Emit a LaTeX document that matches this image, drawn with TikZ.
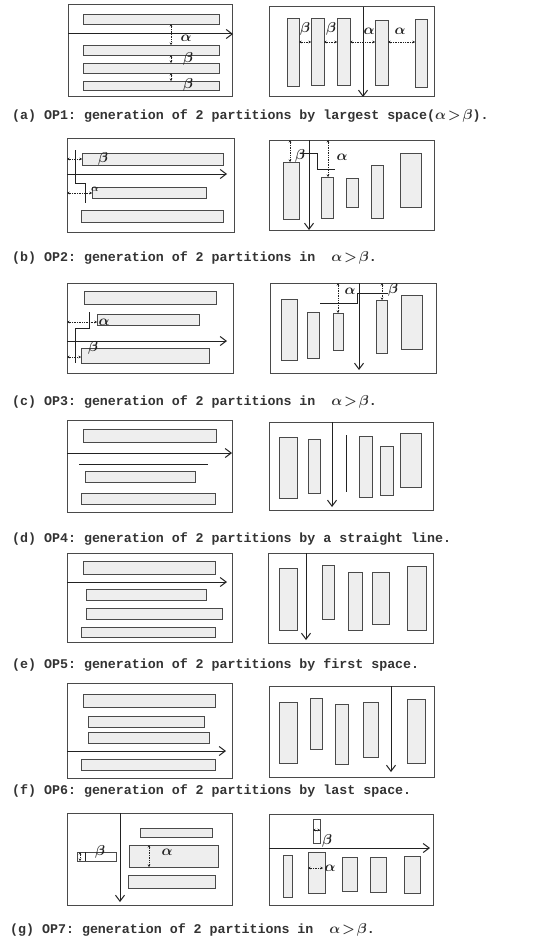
\documentclass[tikz,border=0pt]{standalone}
\usepackage{fontspec}
\setmonofont{Liberation Mono}
\usetikzlibrary{arrows.meta}
\definecolor{barfill}{HTML}{EEEEEE}
\definecolor{edge}{HTML}{4A4A4A}
\definecolor{ink}{HTML}{222222}
\definecolor{captink}{HTML}{333333}
\tikzset{
  panelframe/.style={draw=edge, line width=1pt},
  barbox/.style={draw=edge, fill=barfill, line width=0.9pt},
  cutarrow/.style={draw=ink, line width=1pt, -{Straight Barb[length=6pt,width=9pt,line width=1pt]}},
  cutline/.style={draw=ink, line width=0.8pt},
  stepline/.style={draw=ink, line width=0.7pt},
  dimline/.style={draw=ink, line width=0.7pt, densely dotted, {Stealth[length=2.5pt,width=2.5pt]}-{Stealth[length=2.5pt,width=2.5pt]}},
  lbl/.style={font=\boldmath\fontsize{14}{14}\selectfont, text=ink, inner sep=0pt},
  slbl/.style={font=\boldmath\fontsize{10}{10}\selectfont, text=ink, inner sep=0pt},
  captext/.style={anchor=west, font=\ttfamily\bfseries\boldmath\fontsize{13.3}{14}\selectfont, text=captink, inner sep=0pt},
}
\begin{document}
\begin{tikzpicture}[x=1pt,y=-1pt]
\useasboundingbox[fill=white] (0,0) rectangle (542,939);

% ---------- (a) ----------
\draw[panelframe] (68,5) rectangle (232,97);
\draw[barbox] (83,14) rectangle (219,24);
\draw[barbox] (83,45) rectangle (219,55);
\draw[barbox] (83,63) rectangle (219,73);
\draw[barbox] (83,81) rectangle (219,90);
\coordinate (aL1) at (68,34); \coordinate (aL2) at (233,34);
\draw[cutarrow] (aL1) -- (aL2);
\draw[dimline] (171,24) -- (171,45);
\draw[dimline] (171,55) -- (171,63);
\draw[dimline] (171,73) -- (171,81);
\node[lbl] (aLa) at (186,38) {$\alpha$};
\node[lbl] (aLb1) at (188,59) {$\beta$};
\node[lbl] (aLb2) at (188,85) {$\beta$};

\draw[panelframe] (269,7) rectangle (434,97);
\draw[barbox] (287,18) rectangle (299,86);
\draw[barbox] (311,18) rectangle (324,85);
\draw[barbox] (337,18) rectangle (350,85);
\draw[barbox] (375,20) rectangle (388,85);
\draw[barbox] (415,19) rectangle (427,87);
\coordinate (aR1) at (363,7); \coordinate (aR2) at (363,97);
\draw[cutarrow] (aR1) -- (aR2);
\draw[dimline] (299,42) -- (311,42);
\draw[dimline] (324,42) -- (337,42);
\draw[dimline] (350,42) -- (375,42);
\draw[dimline] (388,42) -- (415,42);
\node[lbl] (aRb1) at (305,29) {$\beta$};
\node[lbl] (aRb2) at (331,29) {$\beta$};
\node[lbl] (aRa1) at (369,31) {$\alpha$};
\node[lbl] (aRa2) at (400,31) {$\alpha$};

\node[captext] (capA) at (12,116) {(a) OP1: generation of 2 partitions by largest space($\alpha\!>\!\beta$).};

% ---------- (b) ----------
\draw[panelframe] (67,138) rectangle (234,232);
\draw[barbox] (82,153) rectangle (223,165);
\draw[barbox] (92,187) rectangle (206,198);
\draw[barbox] (81,210) rectangle (223,222);
\coordinate (bL1) at (67,174); \coordinate (bL2) at (227,174);
\draw[cutarrow] (bL1) -- (bL2);
\draw[stepline] (75,150) -- (75,183) -- (85,183) -- (85,203);
\draw[dimline] (67,159) -- (82,159);
\draw[dimline] (67,193) -- (92,193);
\node[lbl] (bLb) at (103,159) {$\beta$};
\node[slbl] (bLa) at (95,189) {$\alpha$};

\draw[panelframe] (269,140) rectangle (434,230);
\draw[barbox] (283,162) rectangle (299,219);
\draw[barbox] (321,177) rectangle (333,218);
\draw[barbox] (346,178) rectangle (358,207);
\draw[barbox] (371,165) rectangle (383,218);
\draw[barbox] (400,153) rectangle (421,207);
\coordinate (bR1) at (309,140); \coordinate (bR2) at (309,230);
\draw[cutarrow] (bR1) -- (bR2);
\draw[stepline] (300,153) -- (317,153) -- (317,169) -- (335,169);
\draw[dimline] (290,140) -- (290,162);
\draw[dimline] (328,140) -- (328,177);
\node[lbl] (bRb) at (300,156) {$\beta$};
\node[lbl] (bRa) at (342,157) {$\alpha$};

\node[captext] (capB) at (12,258) {(b) OP2: generation of 2 partitions in\ \ $\alpha\!>\!\beta$.};

% ---------- (c) ----------
\draw[panelframe] (67,283) rectangle (233,373);
\draw[barbox] (84,291) rectangle (216,304);
\draw[barbox] (97,314) rectangle (199,325);
\draw[barbox] (81,348) rectangle (209,363);
\coordinate (cL1) at (67,341); \coordinate (cL2) at (227,341);
\draw[cutarrow] (cL1) -- (cL2);
\draw[stepline] (89,312) -- (89,328) -- (75,328) -- (75,363);
\draw[dimline] (67,322) -- (97,322);
\draw[dimline] (67,357) -- (81,357);
\node[lbl] (cLa) at (104,322) {$\alpha$};
\node[lbl] (cLb) at (93,348) {$\beta$};

\draw[panelframe] (270,283) rectangle (436,373);
\draw[barbox] (281,299) rectangle (297,360);
\draw[barbox] (307,312) rectangle (319,358);
\draw[barbox] (333,313) rectangle (343,350);
\draw[barbox] (376,300) rectangle (387,353);
\draw[barbox] (401,295) rectangle (422,349);
\coordinate (cR1) at (359,283); \coordinate (cR2) at (359,370);
\draw[cutarrow] (cR1) -- (cR2);
\draw[stepline] (388,293) -- (357,293) -- (357,303) -- (320,303);
\draw[dimline] (338,283) -- (338,313);
\draw[dimline] (382,283) -- (382,300);
\node[lbl] (cRa) at (350,291) {$\alpha$};
\node[lbl] (cRb) at (393,290) {$\beta$};

\node[captext] (capC) at (12,402) {(c) OP3: generation of 2 partitions in\ \ $\alpha\!>\!\beta$.};

% ---------- (d) ----------
\draw[panelframe] (67,420) rectangle (232,512);
\draw[barbox] (83,429) rectangle (216,442);
\draw[barbox] (85,471) rectangle (195,482);
\draw[barbox] (81,493) rectangle (215,504);
\coordinate (dL1) at (67,453); \coordinate (dL2) at (232,453);
\draw[cutarrow] (dL1) -- (dL2);
\draw[cutline] (79,464) -- (208,464);

\draw[panelframe] (269,422) rectangle (433,510);
\draw[barbox] (279,437) rectangle (297,498);
\draw[barbox] (308,439) rectangle (320,493);
\draw[barbox] (359,436) rectangle (372,497);
\draw[barbox] (380,446) rectangle (393,495);
\draw[barbox] (400,433) rectangle (421,487);
\coordinate (dR1) at (332,422); \coordinate (dR2) at (332,507);
\draw[cutarrow] (dR1) -- (dR2);
\draw[cutline] (346,435) -- (346,492);

\node[captext] (capD) at (12,539) {(d) OP4: generation of 2 partitions by a straight line.};

% ---------- (e) ----------
\draw[panelframe] (67,553) rectangle (232,642);
\draw[barbox] (83,561) rectangle (215,574);
\draw[barbox] (86,589) rectangle (206,600);
\draw[barbox] (86,608) rectangle (222,619);
\draw[barbox] (81,627) rectangle (215,637);
\coordinate (eL1) at (67,582); \coordinate (eL2) at (227,582);
\draw[cutarrow] (eL1) -- (eL2);

\draw[panelframe] (268,553) rectangle (433,643);
\draw[barbox] (279,568) rectangle (297,630);
\draw[barbox] (322,565) rectangle (334,619);
\draw[barbox] (348,572) rectangle (362,630);
\draw[barbox] (372,572) rectangle (389,624);
\draw[barbox] (407,566) rectangle (426,630);
\coordinate (eR1) at (306,553); \coordinate (eR2) at (306,640);
\draw[cutarrow] (eR1) -- (eR2);

\node[captext] (capE) at (12,665) {(e) OP5: generation of 2 partitions by first space.};

% ---------- (f) ----------
\draw[panelframe] (67,683) rectangle (232,778);
\draw[barbox] (83,694) rectangle (215,707);
\draw[barbox] (88,716) rectangle (204,727);
\draw[barbox] (88,732) rectangle (209,743);
\draw[barbox] (81,759) rectangle (215,770);
\coordinate (fL1) at (67,751); \coordinate (fL2) at (226,751);
\draw[cutarrow] (fL1) -- (fL2);

\draw[panelframe] (269,686) rectangle (434,777);
\draw[barbox] (279,702) rectangle (297,763);
\draw[barbox] (310,698) rectangle (322,749);
\draw[barbox] (335,704) rectangle (348,764);
\draw[barbox] (363,702) rectangle (378,757);
\draw[barbox] (407,699) rectangle (425,763);
\coordinate (fR1) at (391,686); \coordinate (fR2) at (391,772);
\draw[cutarrow] (fR1) -- (fR2);

\node[captext] (capF) at (12,791) {(f) OP6: generation of 2 partitions by last space.};

% ---------- (g) ----------
\draw[panelframe] (67,813) rectangle (232,905);
\draw[barbox] (140,828) rectangle (212,837);
\draw[barbox] (129,845) rectangle (218,867);
\draw[barbox] (128,875) rectangle (215,888);
\draw[panelframe] (77,852) rectangle (116,861);
\draw[stepline] (85,852) -- (85,861);
\draw[dimline] (80,852) -- (80,861);
\coordinate (gL1) at (120,813); \coordinate (gL2) at (120,902);
\draw[cutarrow] (gL1) -- (gL2);
\draw[dimline] (149,845) -- (149,867);
\node[lbl] (gLb) at (100,852) {$\beta$};
\node[lbl] (gLa) at (167,852) {$\alpha$};

\draw[panelframe] (269,814) rectangle (433,905);
\draw[panelframe] (313,819) rectangle (320,830);
\draw[panelframe] (313,830) rectangle (320,843);
\draw[dimline] (313,830) -- (320,830);
\coordinate (gR1) at (269,848); \coordinate (gR2) at (430,848);
\draw[cutarrow] (gR1) -- (gR2);
\draw[barbox] (283,855) rectangle (292,897);
\draw[barbox] (308,852) rectangle (325,893);
\draw[barbox] (342,857) rectangle (357,891);
\draw[barbox] (370,857) rectangle (386,892);
\draw[barbox] (404,856) rectangle (420,893);
\draw[dimline] (308,868) -- (323,868);
\node[lbl] (gRb) at (327,841) {$\beta$};
\node[lbl] (gRa) at (330,868) {$\alpha$};

\node[captext] (capG) at (10,930) {(g) OP7: generation of 2 partitions in\ \ $\alpha\!>\!\beta$.};
\end{tikzpicture}
\end{document}
